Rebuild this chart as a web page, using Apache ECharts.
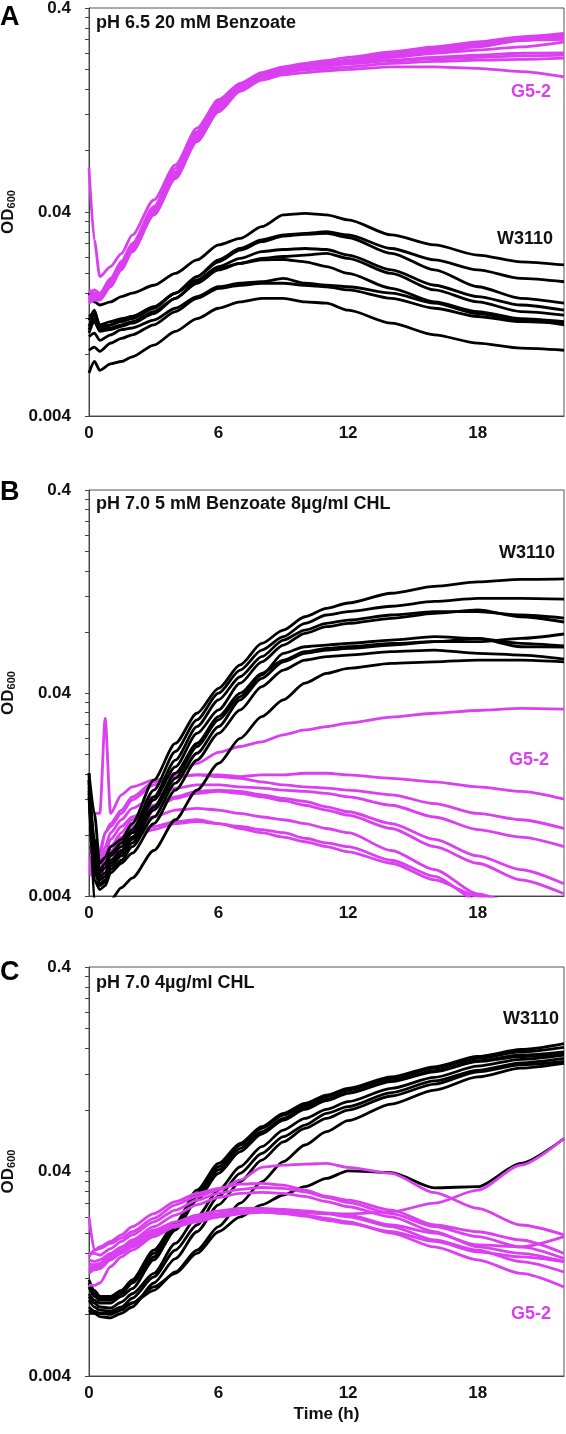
<!DOCTYPE html>
<html><head><meta charset="utf-8">
<script src="https://cdn.jsdelivr.net/npm/echarts@6/dist/echarts.min.js"></script>
<style>html,body{margin:0;padding:0;background:#fff}#c{width:566px;height:1434px}</style>
</head><body><div id="c"></div>
<script>
// ---------- data ----------
const timesA = [0,0.25,0.5,1,1.5,2,3,4,5,6,7,8,9,10,11,12,14,16,18,20,22];
const timesB = [0,0.25,0.5,0.75,1,1.5,2,3,4,5,6,7,8,9,10,11,12,14,16,18,20,22];
const timesC = [0,0.25,0.5,1,1.5,2,3,4,5,6,7,8,9,10,11,12,14,16,18,20,22];

const yTickValues = [0.004,0.008,0.012,0.016,0.02,0.024,0.028,0.032,0.036,0.04,0.08,0.12,0.16,0.2,0.24,0.28,0.32,0.36,0.4];
const yLabelValues = [0.004,0.04,0.4];
const xLabelValues = [0,6,12,18];

const panelLetters = ['A','B','C'];
const panelTitles = ['pH 6.5 20 mM Benzoate','pH 7.0 5 mM Benzoate 8µg/ml CHL','pH 7.0 4µg/ml CHL'];
const strainNames = ['W3110','G5-2'];

// Panel A: OD600 replicates
const panelA_W3110 = [
  [0.016,0.0145,0.014,0.0145,0.0154,0.016,0.0175,0.020,0.0233,0.0276,0.0297,0.0339,0.0387,0.0394,0.0387,0.0366,0.0309,0.0276,0.0246,0.0228,0.022],
  [0.0123,0.0127,0.0112,0.0116,0.012,0.0123,0.0137,0.016,0.0193,0.0233,0.0265,0.0292,0.0309,0.0314,0.032,0.0309,0.0265,0.0233,0.0208,0.0189,0.0182],
  [0.0118,0.0132,0.011,0.0112,0.0116,0.012,0.0135,0.016,0.0193,0.0228,0.026,0.0286,0.0305,0.0311,0.0314,0.030,0.0251,0.0208,0.0172,0.0151,0.0143],
  [0.011,0.0125,0.0108,0.0112,0.0118,0.0123,0.0137,0.016,0.0186,0.0216,0.0237,0.0256,0.0262,0.0265,0.0262,0.0246,0.0208,0.0175,0.0154,0.014,0.0132],
  [0.0106,0.012,0.0106,0.0108,0.0112,0.0116,0.013,0.0151,0.0179,0.0208,0.0224,0.0237,0.0242,0.0246,0.0251,0.0237,0.020,0.0166,0.0145,0.013,0.0125],
  [0.0102,0.0116,0.0104,0.0106,0.011,0.0114,0.0127,0.0151,0.0182,0.0212,0.0224,0.0233,0.0234,0.0228,0.0216,0.020,0.0169,0.0145,0.013,0.012,0.0116],
  [0.0098,0.0102,0.0094,0.010,0.0106,0.0108,0.0118,0.0135,0.0154,0.0172,0.0179,0.0182,0.0189,0.0179,0.0175,0.0172,0.016,0.0143,0.0127,0.0118,0.0112],
  [0.0084,0.0087,0.0083,0.0091,0.0096,0.010,0.0112,0.013,0.0151,0.0169,0.0175,0.0179,0.0179,0.0175,0.0172,0.0166,0.0151,0.0135,0.0123,0.0116,0.0114],
  [0.0065,0.0074,0.0067,0.0072,0.0074,0.0078,0.0089,0.0104,0.012,0.0135,0.0145,0.0151,0.0151,0.0145,0.0143,0.0132,0.0114,0.010,0.0091,0.0086,0.0084]
];
const panelA_G52 = [
  [0.066,0.029,0.0193,0.0216,0.025,0.0308,0.0458,0.068,0.103,0.142,0.171,0.193,0.206,0.214,0.221,0.229,0.244,0.258,0.273,0.289,0.300],
  [0.0166,0.016,0.0157,0.0186,0.0224,0.0275,0.0417,0.063,0.0954,0.134,0.165,0.188,0.200,0.208,0.214,0.221,0.235,0.249,0.263,0.281,0.295],
  [0.0148,0.0154,0.0151,0.0179,0.0216,0.0265,0.0402,0.0607,0.0936,0.131,0.162,0.186,0.199,0.206,0.213,0.218,0.231,0.244,0.258,0.277,0.289],
  [0.016,0.0166,0.016,0.0189,0.0229,0.028,0.0425,0.0655,0.099,0.139,0.168,0.190,0.203,0.209,0.216,0.222,0.240,0.254,0.270,0.279,0.281],
  [0.0143,0.0148,0.0148,0.0172,0.0208,0.0255,0.0387,0.0585,0.0902,0.1265,0.1585,0.183,0.197,0.205,0.210,0.216,0.229,0.240,0.249,0.258,0.273],
  [0.0154,0.016,0.0154,0.0182,0.022,0.027,0.0409,0.0619,0.0972,0.136,0.166,0.188,0.199,0.205,0.209,0.214,0.222,0.229,0.235,0.240,0.241],
  [0.0151,0.0157,0.0154,0.0179,0.0216,0.0265,0.0395,0.0596,0.0919,0.129,0.160,0.184,0.195,0.2025,0.208,0.213,0.220,0.226,0.229,0.233,0.235],
  [0.0145,0.0151,0.0151,0.0176,0.0212,0.026,0.0395,0.0596,0.0908,0.127,0.1585,0.181,0.193,0.199,0.2025,0.206,0.214,0.219,0.222,0.224,0.227],
  [0.0148,0.0154,0.0154,0.0179,0.0212,0.0258,0.0387,0.0585,0.0885,0.124,0.156,0.1775,0.188,0.193,0.197,0.200,0.206,0.206,0.2025,0.195,0.184]
];

// Panel B
const panelB_W3110 = [
  [0.0161,0.0102,0.0058,0.0062,0.007,0.0076,0.0091,0.0149,0.0226,0.0318,0.0422,0.055,0.0702,0.0817,0.095,0.1045,0.111,0.124,0.134,0.141,0.145,0.146],
  [0.0149,0.007,0.0054,0.0058,0.0065,0.0073,0.0085,0.0133,0.0206,0.0295,0.0399,0.0519,0.0651,0.0758,0.0881,0.0969,0.1006,0.107,0.113,0.117,0.117,0.116],
  [0.0149,0.0076,0.0052,0.0055,0.0063,0.007,0.0082,0.0123,0.0187,0.0273,0.037,0.0481,0.0604,0.0729,0.0817,0.0881,0.0915,0.0969,0.1006,0.1006,0.0969,0.0936],
  [0.0144,0.0065,0.005,0.0052,0.006,0.0067,0.0078,0.0119,0.0173,0.0253,0.033,0.0447,0.057,0.0689,0.0787,0.0849,0.0881,0.0933,0.0987,0.1026,0.095,0.0895],
  [0.0138,0.006,0.0048,0.005,0.0058,0.0065,0.0076,0.011,0.0161,0.0226,0.0306,0.0399,0.050,0.0581,0.0639,0.0663,0.0676,0.0702,0.0716,0.0716,0.0743,0.0781],
  [0.0133,0.0056,0.0046,0.0048,0.0056,0.0063,0.0073,0.0106,0.0152,0.0218,0.0295,0.0384,0.0491,0.0627,0.0676,0.0689,0.0702,0.0729,0.0758,0.0743,0.0702,0.0682],
  [0.0128,0.0054,0.0045,0.0047,0.0054,0.006,0.007,0.0098,0.0144,0.0202,0.0273,0.037,0.0472,0.057,0.0627,0.0651,0.0663,0.0689,0.0716,0.0743,0.0676,0.0674],
  [0.0123,0.0048,0.0043,0.0045,0.0052,0.0058,0.0065,0.0091,0.0133,0.0187,0.0253,0.033,0.043,0.0519,0.0581,0.0604,0.0615,0.0639,0.0651,0.0627,0.0615,0.0588],
  [0.0161,0.0037,0.0036,0.0036,0.0038,0.0044,0.0049,0.0067,0.0095,0.0133,0.018,0.0239,0.0306,0.037,0.0447,0.050,0.0529,0.056,0.057,0.0581,0.0581,0.057]
];
const panelB_G52 = [
  [0.0073,0.007,0.0067,0.0082,0.0088,0.0102,0.0119,0.0141,0.0161,0.018,0.0204,0.0218,0.023,0.0249,0.0263,0.0273,0.0284,0.0304,0.0318,0.0328,0.0336,0.0333],
  [0.0102,0.0102,0.0102,0.030,0.0102,0.0126,0.0138,0.0149,0.0155,0.0158,0.0158,0.0155,0.0158,0.0158,0.0161,0.0161,0.0158,0.0152,0.0146,0.0138,0.0131,0.012],
  [0.0067,0.0065,0.0063,0.0082,0.0091,0.0106,0.0123,0.0146,0.0155,0.0158,0.0155,0.0152,0.0146,0.0141,0.0138,0.0136,0.0133,0.0126,0.0114,0.0102,0.0095,0.0086],
  [0.0063,0.006,0.0058,0.007,0.0082,0.0095,0.0108,0.0123,0.0136,0.0141,0.0141,0.0138,0.0136,0.0133,0.0131,0.0128,0.0123,0.0112,0.0098,0.0085,0.0078,0.007],
  [0.0058,0.0056,0.0054,0.0065,0.0076,0.0088,0.0098,0.0112,0.0123,0.0131,0.0133,0.0131,0.0126,0.0121,0.0117,0.011,0.0104,0.0091,0.0076,0.0063,0.0054,0.0046],
  [0.0056,0.0054,0.0052,0.0063,0.007,0.0082,0.0095,0.0108,0.0121,0.0128,0.0131,0.0128,0.0123,0.0118,0.0112,0.0106,0.010,0.0086,0.007,0.0058,0.0048,0.0041],
  [0.006,0.0058,0.0056,0.0065,0.007,0.0078,0.0088,0.0098,0.0106,0.0108,0.0106,0.0102,0.0098,0.0095,0.0091,0.0086,0.0082,0.0067,0.0054,0.0041,0.0036,0.0033],
  [0.0052,0.005,0.0048,0.0058,0.0065,0.0073,0.0078,0.0085,0.0091,0.0093,0.0091,0.0088,0.0085,0.0082,0.0077,0.0073,0.007,0.006,0.005,0.0038,0.0034,0.0031],
  [0.0054,0.0052,0.005,0.006,0.0067,0.0074,0.0082,0.0088,0.0093,0.0095,0.0091,0.0086,0.0082,0.0078,0.0074,0.007,0.0066,0.0058,0.0048,0.004,0.0036,0.0032]
];

// Panel C
const panelC_W3110 = [
  [0.0118,0.0105,0.0098,0.0098,0.0105,0.0118,0.0165,0.0223,0.0324,0.0438,0.0549,0.0662,0.077,0.0861,0.0946,0.102,0.116,0.130,0.146,0.158,0.169],
  [0.0114,0.0101,0.0096,0.0096,0.0103,0.0116,0.0159,0.0219,0.0313,0.0422,0.0539,0.065,0.0755,0.0845,0.0928,0.100,0.114,0.128,0.143,0.154,0.162],
  [0.0109,0.0098,0.0094,0.0094,0.0101,0.0114,0.0153,0.0215,0.0302,0.0407,0.0519,0.0626,0.0727,0.0823,0.090,0.0972,0.111,0.1245,0.139,0.1485,0.154],
  [0.0101,0.0094,0.0091,0.0091,0.0098,0.0107,0.0148,0.0207,0.029,0.0392,0.050,0.061,0.0714,0.0805,0.0888,0.0964,0.110,0.123,0.138,0.146,0.151],
  [0.0098,0.0091,0.0087,0.0086,0.0092,0.0101,0.0127,0.0178,0.024,0.0324,0.0422,0.0529,0.0638,0.0727,0.0805,0.0878,0.102,0.1154,0.131,0.1415,0.1485],
  [0.0094,0.0087,0.0084,0.0083,0.0087,0.0096,0.0122,0.0165,0.0219,0.0302,0.0392,0.049,0.0592,0.0675,0.077,0.083,0.0972,0.111,0.125,0.136,0.143],
  [0.0084,0.0081,0.0078,0.0077,0.0081,0.0087,0.0114,0.015,0.0203,0.0275,0.0356,0.0455,0.0559,0.065,0.0727,0.0799,0.0936,0.107,0.123,0.133,0.138],
  [0.0081,0.0081,0.0081,0.0081,0.0086,0.0091,0.0105,0.0129,0.0165,0.0215,0.028,0.0356,0.0447,0.0539,0.0626,0.0709,0.0855,0.100,0.116,0.128,0.135],
  [0.0087,0.0083,0.0081,0.008,0.0084,0.0091,0.0109,0.0127,0.0159,0.0203,0.024,0.0275,0.0307,0.0337,0.037,0.0403,0.0395,0.0333,0.0337,0.0438,0.058]
];
const panelC_G52 = [
  [0.0153,0.0165,0.0168,0.0178,0.0189,0.0203,0.0236,0.0275,0.0302,0.0324,0.0363,0.0419,0.043,0.0435,0.0438,0.0419,0.0392,0.0315,0.0264,0.0219,0.0196],
  [0.0111,0.0111,0.0114,0.0137,0.0153,0.0165,0.0192,0.0215,0.0227,0.024,0.0249,0.0254,0.0254,0.0251,0.0249,0.0248,0.0254,0.028,0.0324,0.043,0.058],
  [0.024,0.0165,0.0171,0.0182,0.0196,0.0215,0.0249,0.0285,0.0313,0.0331,0.0347,0.035,0.0343,0.0324,0.0302,0.029,0.0259,0.0219,0.0203,0.0185,0.0159],
  [0.0159,0.0159,0.0156,0.0168,0.0182,0.0196,0.0227,0.0259,0.029,0.0313,0.0327,0.0334,0.0331,0.0318,0.0299,0.0282,0.0249,0.0215,0.0192,0.0171,0.015],
  [0.0148,0.0145,0.0148,0.0159,0.0171,0.0185,0.0215,0.0245,0.0275,0.0299,0.0313,0.0316,0.0313,0.0302,0.0285,0.0269,0.024,0.0203,0.0171,0.0159,0.0145],
  [0.0137,0.0137,0.014,0.0153,0.0165,0.0178,0.0203,0.0219,0.0239,0.0249,0.0257,0.0261,0.0259,0.0254,0.0248,0.024,0.0215,0.0185,0.0165,0.0145,0.0129],
  [0.0127,0.0132,0.0134,0.0148,0.0159,0.0171,0.0196,0.0215,0.023,0.024,0.0249,0.0253,0.0251,0.0245,0.0236,0.0227,0.020,0.0171,0.0148,0.0127,0.0109],
  [0.0142,0.014,0.0142,0.0156,0.0168,0.018,0.0207,0.0227,0.0245,0.0257,0.0264,0.0264,0.0261,0.0257,0.0251,0.0245,0.0219,0.020,0.0175,0.0171,0.0192],
  [0.0132,0.0134,0.0137,0.015,0.0162,0.0175,0.020,0.0219,0.0233,0.0245,0.0251,0.0254,0.0249,0.0242,0.0231,0.0223,0.0203,0.0182,0.0162,0.0153,0.0145]
];

// ---------- styling / layout ----------
const FONT = '"Liberation Sans", Arial, sans-serif';
const BLACK = '#000000';
const MAGENTA = '#DA3FF0';
const grids = [
  {left: 89, top: 8,   width: 475, height: 408},
  {left: 89, top: 490, width: 475, height: 406},
  {left: 89, top: 967, width: 475, height: 409}
];
const letterTops = [4, 479, 959];
const titleTops = [14, 495, 974];
const strainLabelPos = [
  {w: [497, 230], g: [511, 83]},
  {w: [499, 544], g: [509, 751]},
  {w: [503, 1010], g: [511, 1305]}
];
const panels = [
  {times: timesA, w: panelA_W3110, g: panelA_G52, blackOnTop: false},
  {times: timesB, w: panelB_W3110, g: panelB_G52, blackOnTop: true},
  {times: timesC, w: panelC_W3110, g: panelC_G52, blackOnTop: false}
];

const fmt = v => String(parseFloat(Number(v).toPrecision(2)));

const option = {
  animation: false,
  backgroundColor: '#ffffff',
  textStyle: {fontFamily: FONT},
  grid: grids.map(g => Object.assign({show: true, borderColor: '#555', borderWidth: 1, containLabel: false, outerBoundsMode: 'none'}, g)),
  title: [],
  xAxis: [],
  yAxis: [],
  series: []
};

panels.forEach((p, i) => {
  option.xAxis.push({
    type: 'value', gridIndex: i, min: 0, max: 22, interval: 6,
    axisLine: {show: true, lineStyle: {color: '#444', width: 1}},
    axisTick: {show: false},
    splitLine: {show: false},
    axisLabel: {customValues: xLabelValues, fontSize: 17, fontWeight: 'bold', color: '#111', fontFamily: FONT, margin: 9},
    name: i === 2 ? 'Time (h)' : '',
    nameLocation: 'middle', nameGap: 30,
    nameTextStyle: {fontSize: 17, fontWeight: 'bold', color: '#111', fontFamily: FONT}
  });
  option.yAxis.push({
    type: 'log', logBase: 10, gridIndex: i, min: 0.004, max: 0.4,
    axisLine: {show: true, lineStyle: {color: '#444', width: 1}},
    axisTick: {show: true, customValues: yTickValues, length: 4, inside: false, lineStyle: {color: '#444'}},
    minorTick: {show: false},
    splitLine: {show: false},
    axisLabel: {customValues: yLabelValues, formatter: fmt, fontSize: 17, fontWeight: 'bold', color: '#111', fontFamily: FONT, margin: 18},
    name: 'OD{s|600}', nameLocation: 'middle', nameRotate: 90, nameGap: 72,
    nameTextStyle: {fontSize: 17, fontWeight: 'bold', color: '#111', fontFamily: FONT,
      rich: {s: {fontSize: 11, fontWeight: 'bold', color: '#111', fontFamily: FONT, verticalAlign: 'bottom', padding: [6, 0, 0, 0]}}}
  });

  const mk = (vals, color) => ({
    type: 'line', xAxisIndex: i, yAxisIndex: i,
    data: p.times.map((t, k) => [t, vals[k]]),
    showSymbol: false, symbol: 'none', silent: true, clip: true,
    smooth: 0.25, smoothMonotone: 'x',
    lineStyle: {color: color, width: 2.8}
  });
  const blacks = p.w.map(v => mk(v, BLACK));
  const mags = p.g.map(v => mk(v, MAGENTA));
  if (p.blackOnTop) option.series.push(...mags, ...blacks);
  else option.series.push(...blacks, ...mags);

  option.title.push({
    text: panelLetters[i], left: 0, top: letterTops[i], padding: 0,
    textStyle: {fontSize: 27, fontWeight: 'bold', color: '#000', fontFamily: FONT}
  });
  option.title.push({
    text: panelTitles[i], left: 96, top: titleTops[i], padding: 0,
    textStyle: {fontSize: 18, fontWeight: 'bold', color: '#111', fontFamily: FONT}
  });
  option.title.push({
    text: strainNames[0], left: strainLabelPos[i].w[0], top: strainLabelPos[i].w[1], padding: 0,
    textStyle: {fontSize: 18, fontWeight: 'bold', color: '#111', fontFamily: FONT}
  });
  option.title.push({
    text: strainNames[1], left: strainLabelPos[i].g[0], top: strainLabelPos[i].g[1], padding: 0,
    textStyle: {fontSize: 18, fontWeight: 'bold', color: MAGENTA, fontFamily: FONT}
  });
});

const chart = echarts.init(document.getElementById('c'), null, {renderer: 'canvas'});
chart.setOption(option);
</script>
</body></html>
